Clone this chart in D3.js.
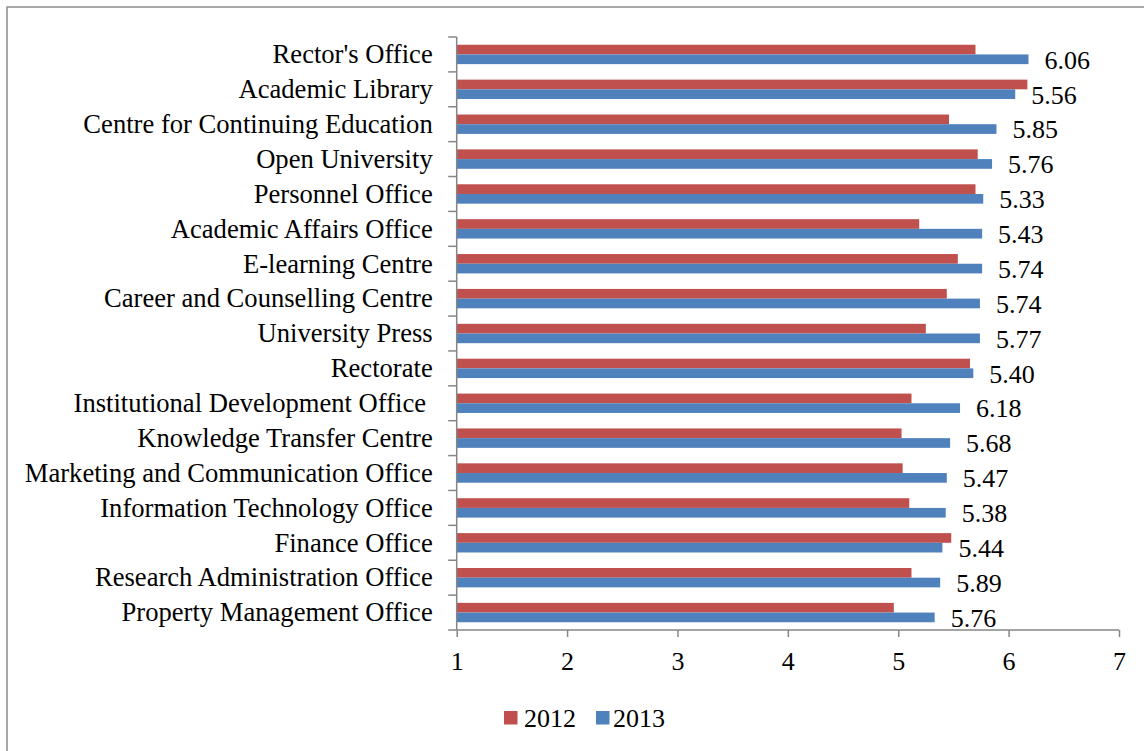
<!DOCTYPE html>
<html>
<head>
<meta charset="utf-8">
<script src="https://cdn.jsdelivr.net/npm/d3@7"></script>
<style>
  html, body { margin: 0; padding: 0; background: #fff; }
  svg { display: block; }
  text { font-family: "Liberation Serif", "Times New Roman", serif; fill: #000; }
</style>
</head>
<body>
<svg id="chart" width="1144" height="751"></svg>
<script>
// Units, top to bottom
const categories = [
  "Rector's Office",
  "Academic Library",
  "Centre for Continuing Education",
  "Open University",
  "Personnel Office",
  "Academic Affairs Office",
  "E-learning Centre",
  "Career and Counselling Centre",
  "University Press",
  "Rectorate",
  "Institutional Development Office ",
  "Knowledge Transfer Centre",
  "Marketing and Communication Office",
  "Information Technology Office",
  "Finance Office",
  "Research Administration Office",
  "Property Management Office"
];

const series = ["2012", "2013"];

const values2012 = [5.70, 6.17, 5.46, 5.72, 5.70, 5.19, 5.54, 5.44, 5.25, 5.65, 5.12, 5.03, 5.04, 5.10, 5.48, 5.12, 4.96];
const values2013 = [6.18, 6.06, 5.89, 5.85, 5.77, 5.76, 5.76, 5.74, 5.74, 5.68, 5.56, 5.47, 5.44, 5.43, 5.40, 5.38, 5.33];

// Text boxes printed beside each row's 2013 bar
const valueLabels = ["6.06", "5.56", "5.85", "5.76", "5.33", "5.43", "5.74", "5.74", "5.77", "5.40", "6.18", "5.68", "5.47", "5.38", "5.44", "5.89", "5.76"];

const xTicks = [1, 2, 3, 4, 5, 6, 7];

const colors = { "2012": "#C0504D", "2013": "#4F81BD" };
const axisColor = "#868686";

const svg = d3.select("#chart");

// outer frame
svg.append("rect")
  .attr("x", 7).attr("y", 7)
  .attr("width", 1150).attr("height", 760)
  .attr("fill", "none")
  .attr("stroke", "#8c8c8c")
  .attr("stroke-width", 1.5);

const plot = { left: 456.7, right: 1119, top: 37, bottom: 630 };

const x = d3.scaleLinear().domain([1, 7]).range([plot.left, plot.right]);
const y = d3.scaleBand().domain(categories).range([plot.top, plot.bottom]).paddingInner(0).paddingOuter(0);
const ySub = d3.scaleBand().domain(series).range([0, y.bandwidth()]).paddingInner(0).paddingOuter(0.8);

const rows = categories.map((c, i) => ({
  name: c,
  "2012": values2012[i],
  "2013": values2013[i],
  label: valueLabels[i]
}));

// bars
const groups = svg.append("g").selectAll("g")
  .data(rows)
  .join("g")
  .attr("transform", d => `translate(0,${y(d.name)})`);

groups.selectAll("rect")
  .data(d => series.map(s => ({ s, v: d[s] })))
  .join("rect")
  .attr("x", x(1))
  .attr("y", d => ySub(d.s))
  .attr("width", d => x(d.v) - x(1))
  .attr("height", ySub.bandwidth())
  .attr("fill", d => colors[d.s]);

// value labels beside the 2013 bars
svg.append("g").selectAll("text")
  .data(rows)
  .join("text")
  .attr("x", d => x(d["2013"]) + 16)
  .attr("y", d => y(d.name) + ySub("2013") + ySub.bandwidth() / 2)
  .attr("dy", "0.36em")
  .attr("font-size", 26)
  .text(d => d.label);

// x axis
const xAxis = svg.append("g")
  .attr("transform", `translate(0,${plot.bottom})`)
  .call(d3.axisBottom(x).tickValues(xTicks).tickFormat(d3.format("d")).tickSize(7).tickPadding(15));
xAxis.select(".domain").attr("stroke", axisColor).attr("stroke-width", 1.5)
  .attr("d", `M${plot.left},0H${plot.right}`);
xAxis.selectAll(".tick line").attr("stroke", axisColor).attr("stroke-width", 1.5);
xAxis.selectAll(".tick text")
  .attr("font-family", "Liberation Serif, Times New Roman, serif")
  .attr("font-size", 26)
  .attr("fill", "#000");

// y axis: category labels with ticks on the band boundaries
const yAxis = svg.append("g")
  .attr("transform", `translate(${plot.left},0)`)
  .call(d3.axisLeft(y).tickSize(0).tickPadding(24));
yAxis.select(".domain").attr("stroke", axisColor).attr("stroke-width", 1.5)
  .attr("d", `M0,${plot.top}V${plot.bottom}`);
yAxis.selectAll(".tick text")
  .attr("font-family", "Liberation Serif, Times New Roman, serif")
  .attr("font-size", 26.6)
  .attr("dy", "0.33em")
  .attr("fill", "#000")
  .style("white-space", "pre");

const boundaries = categories.map(c => y(c)).concat([plot.bottom]);
yAxis.selectAll(".bound")
  .data(boundaries)
  .join("line")
  .attr("class", "bound")
  .attr("x1", -8.5).attr("x2", 0)
  .attr("y1", d => d).attr("y2", d => d)
  .attr("stroke", axisColor).attr("stroke-width", 1.5);

// legend
const legend = svg.append("g");
const legendItems = [
  { s: "2012", bx: 504, tx: 524 },
  { s: "2013", bx: 596, tx: 613 }
];
legend.selectAll("rect")
  .data(legendItems)
  .join("rect")
  .attr("x", d => d.bx).attr("y", 711)
  .attr("width", 13.5).attr("height", 13.5)
  .attr("fill", d => colors[d.s]);
legend.selectAll("text")
  .data(legendItems)
  .join("text")
  .attr("x", d => d.tx).attr("y", 727)
  .attr("font-size", 26)
  .text(d => d.s);
</script>
</body>
</html>
